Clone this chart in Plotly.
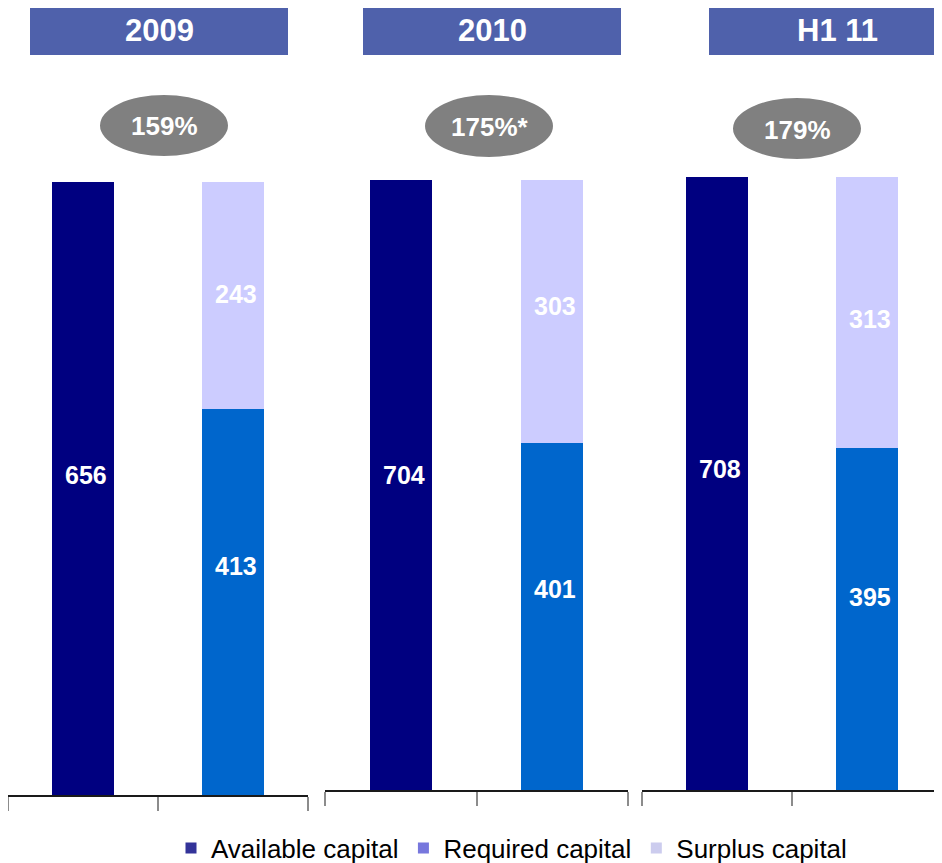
import plotly.graph_objects as go

# ---------------- data ----------------
periods = ["2009", "2010", "H1 11"]
ratios = ["159%", "175%*", "179%"]
available = [656, 704, 708]
required = [413, 401, 395]
surplus = [243, 303, 313]
series_names = ["Available capital", "Required capital", "Surplus capital"]
categories = ["Available", "Required + Surplus"]

# ---------------- styling / layout (screen pixels) ----------------
PAGE_OFF = 8                      # default page margin around the plot div
W, H = 942 - PAGE_OFF, 863 - PAGE_OFF
bar_colors = ["#000080", "#0066CC", "#CCCCFF"]
legend_colors = ["#333399", "#7777DD", "#CCCCEE"]
header_color = "#4F61AB"
ellipse_color = "#808080"
FONT = "Liberation Sans, Arial, sans-serif"

panel_x = [(8, 308), (325, 628), (642, 942)]
panel_base = [795, 790, 790]
panel_top = [182, 180, 177]
header_x = [(30, 288), (363, 621), (709, 942)]
header_text_x = [159, 492, 837]
header_y = (6, 55)
ellipse_x = [(100, 228), (425, 553), (733, 861)]
ellipse_y = [(95, 156), (95, 157), (98, 159)]
# small vertical offsets of value labels (px), as in the original
label_shift = {
    "available": [14, 10, 15],
    "required": [36, 27, 22],
    "surplus": [2, 5, -6],
}


def px(x):
    return (x - PAGE_OFF) / W


def py(y):
    return 1 - (y - PAGE_OFF) / H


fig = go.Figure()

for i in range(3):
    xa = "x" if i == 0 else f"x{i+1}"
    ya = "y" if i == 0 else f"y{i+1}"
    fig.add_trace(go.Bar(x=[categories[0]], y=[available[i]], marker_color=bar_colors[0],
                         xaxis=xa, yaxis=ya, showlegend=False, hoverinfo="y",
                         marker_line_width=0))
    fig.add_trace(go.Bar(x=[categories[1]], y=[required[i]], marker_color=bar_colors[1],
                         xaxis=xa, yaxis=ya, showlegend=False, hoverinfo="y",
                         marker_line_width=0))
    fig.add_trace(go.Bar(x=[categories[1]], y=[surplus[i]], marker_color=bar_colors[2],
                         xaxis=xa, yaxis=ya, showlegend=False, hoverinfo="y",
                         marker_line_width=0))

# legend-only entries
for name, col in zip(series_names, legend_colors):
    fig.add_trace(go.Scatter(x=[None], y=[None], mode="markers", name=name,
                             marker=dict(symbol="square", size=11, color=col),
                             xaxis="x", yaxis="y", showlegend=True))

layout = dict(
    width=W, height=H,
    margin=dict(l=0, r=0, t=0, b=0, pad=0, autoexpand=False),
    paper_bgcolor="white", plot_bgcolor="white",
    barmode="stack", bargap=0.593,
    font=dict(family=FONT, color="black"),
    showlegend=True,
    legend=dict(orientation="h", x=px(171), xanchor="left", y=py(848), yanchor="middle",
                font=dict(size=26, family=FONT, color="black"),
                itemclick=False, traceorder="normal"),
)

shapes = []
annotations = []
for i in range(3):
    sfx = "" if i == 0 else str(i + 1)
    total = max(available[i], required[i] + surplus[i])
    layout["xaxis" + sfx] = dict(
        domain=[px(panel_x[i][0]), min(1.0, px(panel_x[i][1]))],
        anchor="y" + sfx, type="category", categoryorder="array", categoryarray=categories,
        range=[-0.5, 1.5], showticklabels=False, ticks="outside", tickson="boundaries",
        ticklen=14, tickcolor="#8C8C8C", tickwidth=1.5,
        showline=True, linecolor="#1A1A1A", linewidth=2, showgrid=False, zeroline=False,
        fixedrange=True,
    )
    layout["yaxis" + sfx] = dict(
        domain=[py(panel_base[i]), py(panel_top[i])],
        anchor="x" + sfx, range=[0, total], visible=False, showgrid=False,
        zeroline=False, fixedrange=True,
    )
    # header box
    shapes.append(dict(type="rect", xref="paper", yref="paper",
                       x0=px(header_x[i][0]), x1=min(1.0, px(header_x[i][1])),
                       y0=py(header_y[1]), y1=py(header_y[0]),
                       fillcolor=header_color, line=dict(width=0), layer="above"))
    annotations.append(dict(xref="paper", yref="paper", xanchor="center", yanchor="middle",
                            x=px(header_text_x[i]), y=py(sum(header_y) / 2),
                            text=f"<b>{periods[i]}</b>", showarrow=False,
                            font=dict(size=31, color="white", family=FONT)))
    # ratio ellipse
    shapes.append(dict(type="circle", xref="paper", yref="paper",
                       x0=px(ellipse_x[i][0]), x1=px(ellipse_x[i][1]),
                       y0=py(ellipse_y[i][1]), y1=py(ellipse_y[i][0]),
                       fillcolor=ellipse_color, line=dict(width=0), layer="above"))
    annotations.append(dict(xref="paper", yref="paper", xanchor="center", yanchor="middle",
                            x=px(sum(ellipse_x[i]) / 2), y=py(sum(ellipse_y[i]) / 2 + 1),
                            text=f"<b>{ratios[i]}</b>", showarrow=False,
                            font=dict(size=26, color="white", family=FONT)))
    # value labels
    lab_font = dict(size=25, color="white", family=FONT)
    annotations.append(dict(xref="x" + sfx, yref="y" + sfx, x=categories[0],
                            y=available[i] / 2, text=f"<b>{available[i]}</b>",
                            showarrow=False, yshift=label_shift["available"][i], xshift=3,
                            font=lab_font))
    annotations.append(dict(xref="x" + sfx, yref="y" + sfx, x=categories[1],
                            y=required[i] / 2, text=f"<b>{required[i]}</b>",
                            showarrow=False, yshift=label_shift["required"][i], xshift=3,
                            font=lab_font))
    annotations.append(dict(xref="x" + sfx, yref="y" + sfx, x=categories[1],
                            y=required[i] + surplus[i] / 2, text=f"<b>{surplus[i]}</b>",
                            showarrow=False, yshift=label_shift["surplus"][i], xshift=3,
                            font=lab_font))

layout["shapes"] = shapes
layout["annotations"] = annotations
fig.update_layout(**layout)

fig.write_html("out.html")
